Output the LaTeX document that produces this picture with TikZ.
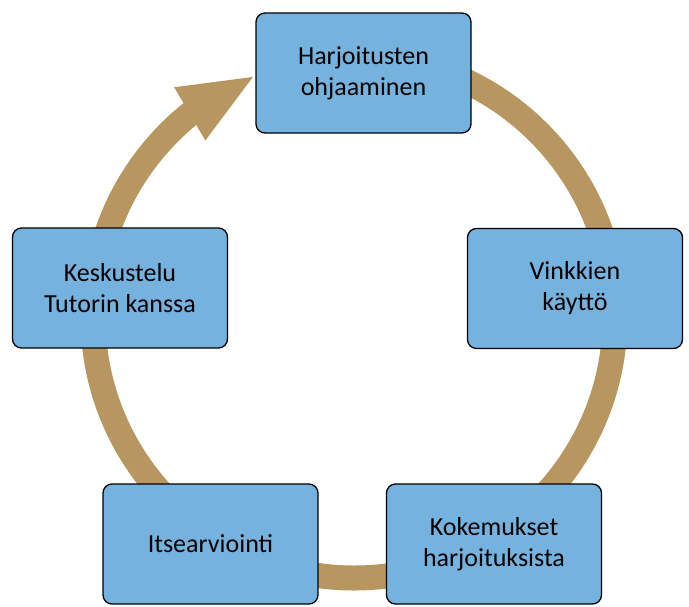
\documentclass[tikz,border=0pt]{standalone}
\usepackage{fontspec}
\setmainfont{Carlito}
\usetikzlibrary{arrows.meta,bending}
\definecolor{boxblue}{RGB}{117,178,221}
\definecolor{ringbrown}{RGB}{184,150,96}

\begin{document}
\begin{tikzpicture}[x=1pt,y=-1pt,
every node/.style={font=\fontsize{26}{31}\selectfont},
stagebox/.style={draw=black,line width=1.3pt,fill=boxblue,rounded corners=9pt,
  minimum width=215pt,minimum height=120pt,align=center},
cyclering/.style={ringbrown,line width=25pt,-{Triangle[length=77pt,width=55pt,flex]}}]

\useasboundingbox (0,0) rectangle (689,606);

\coordinate (hub) at (354,317);

% the ring goes under the boxes
\draw[cyclering] ([shift={(-90:261)}]hub) arc[start angle=-90,end angle=248,radius=261];

\node[stagebox] (ohjaus)   at (363.5,73)  {Harjoitusten\\ohjaaminen};
\node[stagebox] (vinkit)   at (575,288.5) {Vinkkien\\käyttö};
\node[stagebox] (kokemus)  at (494,544)   {Kokemukset\\harjoituksista};
\node[stagebox] (arvio)    at (210.5,544) {Itsearviointi};
\node[stagebox] (keskustelu) at (120,288) {Keskustelu\\Tutorin kanssa};

\end{tikzpicture}
\end{document}
